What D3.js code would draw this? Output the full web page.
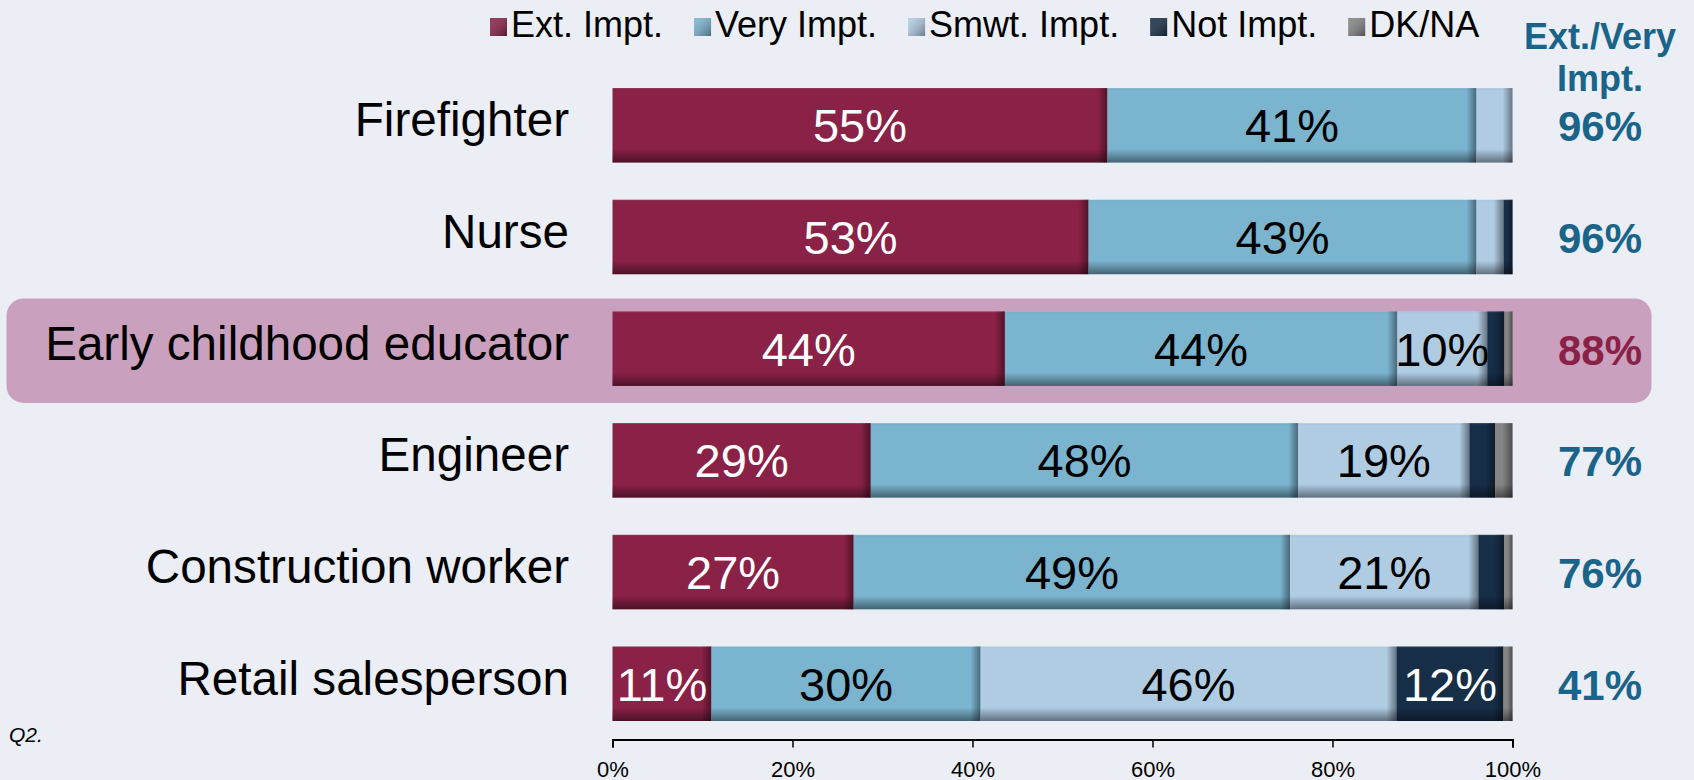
<!DOCTYPE html>
<html>
<head>
<meta charset="utf-8">
<script src="https://cdn.jsdelivr.net/npm/d3@7/dist/d3.min.js"></script>
<style>
  html, body { margin: 0; padding: 0; background: #ebeef4; }
  svg { display: block; font-family: "Liberation Sans", Arial, sans-serif; }
</style>
</head>
<body>
<svg id="chart" width="1694" height="780"></svg>
<script>
// ---- data ----
const categories = ["Firefighter", "Nurse", "Early childhood educator", "Engineer", "Construction worker", "Retail salesperson"];
const seriesNames = ["Ext. Impt.", "Very Impt.", "Smwt. Impt.", "Not Impt.", "DK/NA"];
const extImpt  = [55, 52.9, 43.6, 28.7, 26.8, 11];
const veryImpt = [41, 43.1, 43.6, 47.5, 48.5, 29.9];
const smwtImpt = [4, 3, 10, 19, 20.9, 46.2];
const notImpt  = [0, 1, 1.9, 2.9, 2.9, 11.9];
const dkna     = [0, 0, 0.9, 1.9, 0.9, 1];
const netLabels = ["96%", "96%", "88%", "77%", "76%", "41%"];
const tickValues = [0, 20, 40, 60, 80, 100];
const highlightCategory = "Early childhood educator";
const headerLines = ["Ext./Very", "Impt."];
const footnote = "Q2.";

// ---- styles ----
const colors = ["#8a2146", "#7ab4cf", "#b0cce3", "#172e47", "#858585"];
const textColors = ["#ffffff", "#000000", "#000000", "#ffffff", "#000000"];
const teal = "#1a6489";

const svg = d3.select("#chart");
const defs = svg.append("defs");

const vg = defs.append("linearGradient").attr("id", "vshade").attr("x1", 0).attr("y1", 0).attr("x2", 0).attr("y2", 1);
vg.append("stop").attr("offset", 0).attr("stop-color", "#fff").attr("stop-opacity", 0.12);
vg.append("stop").attr("offset", 0.03).attr("stop-color", "#000").attr("stop-opacity", 0);
vg.append("stop").attr("offset", 0.82).attr("stop-color", "#000").attr("stop-opacity", 0);
vg.append("stop").attr("offset", 1).attr("stop-color", "#000").attr("stop-opacity", 0.45);
const hg = defs.append("linearGradient").attr("id", "hshade").attr("x1", 0).attr("y1", 0).attr("x2", 1).attr("y2", 0);
hg.append("stop").attr("offset", 0).attr("stop-color", "#000").attr("stop-opacity", 0);
hg.append("stop").attr("offset", 1).attr("stop-color", "#000").attr("stop-opacity", 0.42);
const lg = defs.append("linearGradient").attr("id", "lshade").attr("x1", 0).attr("y1", 0).attr("x2", 1).attr("y2", 1);
lg.append("stop").attr("offset", 0).attr("stop-color", "#fff").attr("stop-opacity", 0.1);
lg.append("stop").attr("offset", 1).attr("stop-color", "#000").attr("stop-opacity", 0.4);

const x = d3.scaleLinear().domain([0, 100]).range([612.5, 1512.5]);
const y = d3.scaleBand().domain(categories).range([69.4, 739.6]).paddingInner(0.333).paddingOuter(0.1667);

// highlight box
svg.append("rect")
  .attr("x", 6.5).attr("y", y(highlightCategory) - 13)
  .attr("width", 1645).attr("height", y.bandwidth() + 30)
  .attr("rx", 17).attr("ry", 17)
  .attr("fill", "#c9a0bd");

const table = categories.map((c, i) => ({
  cat: c, vals: [extImpt[i], veryImpt[i], smwtImpt[i], notImpt[i], dkna[i]]
}));
const stack = d3.stack().keys([0, 1, 2, 3, 4]).value((d, k) => d.vals[k]);
const stacked = stack(table);

const bh = y.bandwidth();
stacked.forEach((layer, k) => {
  const g = svg.append("g");
  layer.forEach(seg => {
    const v = seg[1] - seg[0];
    if (v <= 0) return;
    const x0 = x(seg[0]), x1 = x(seg[1]);
    const yy = y(seg.data.cat);
    const w = x1 - x0;
    g.append("rect").attr("x", x0).attr("y", yy).attr("width", w).attr("height", bh).attr("fill", colors[k]);
    g.append("rect").attr("x", x0).attr("y", yy).attr("width", w).attr("height", bh).attr("fill", "url(#vshade)");
    const ew = Math.min(10, w * 0.6);
    g.append("rect").attr("x", x1 - ew).attr("y", yy).attr("width", ew).attr("height", bh).attr("fill", "url(#hshade)");
    if (Math.round(v) >= 5) {
      g.append("text")
        .attr("x", (x0 + x1) / 2).attr("y", yy + bh / 2 + 17)
        .attr("text-anchor", "middle")
        .attr("font-size", 47)
        .attr("fill", textColors[k])
        .text(Math.round(v) + "%");
    }
  });
});

// category labels
svg.append("g").selectAll("text").data(categories).join("text")
  .attr("x", 569).attr("y", d => y(d) + bh / 2 + 11)
  .attr("text-anchor", "end").attr("font-size", 47.6).attr("fill", "#000")
  .text(d => d);

// net labels
svg.append("g").selectAll("text").data(categories).join("text")
  .attr("x", 1600).attr("y", d => y(d) + bh / 2 + 16)
  .attr("text-anchor", "middle").attr("font-size", 42).attr("font-weight", "bold")
  .attr("fill", d => d === highlightCategory ? "#8a2146" : teal)
  .text((d, i) => netLabels[i]);

// header
svg.append("g").selectAll("text").data(headerLines).join("text")
  .attr("x", 1600).attr("y", (d, i) => 49 + i * 42)
  .attr("text-anchor", "middle").attr("font-size", 36).attr("font-weight", "bold")
  .attr("fill", teal).text(d => d);

// axis
const axis = d3.axisBottom(x).tickValues(tickValues).tickFormat(d => d + "%").tickSize(8).tickSizeOuter(8);
const ag = svg.append("g").attr("transform", "translate(0,739.5)").call(axis);
ag.select(".domain").attr("stroke", "#000").attr("stroke-width", 2);
ag.selectAll(".tick line").attr("stroke", "#000").attr("stroke-width", 1.5);
ag.selectAll(".tick text").attr("font-size", 22).attr("fill", "#000").attr("dy", 0).attr("y", 37)
  .attr("font-family", "'Liberation Sans Narrow', 'Liberation Sans', Arial, sans-serif");

// legend
const leg = svg.append("g");
let lx = 490;
seriesNames.forEach((name, k) => {
  leg.append("rect").attr("x", lx).attr("y", 18).attr("width", 17).attr("height", 18).attr("fill", colors[k]);
  leg.append("rect").attr("x", lx).attr("y", 18).attr("width", 17).attr("height", 18).attr("fill", "url(#lshade)");
  const t = leg.append("text").attr("x", lx + 21).attr("y", 37).attr("font-size", 36).attr("fill", "#000").text(name);
  const w = t.node().getComputedTextLength();
  lx = lx + 21 + w + 31;
});

// footnote
svg.append("text").attr("x", 9).attr("y", 742).attr("font-size", 21).attr("font-style", "italic").attr("fill", "#000").text(footnote);
</script>
</body>
</html>
